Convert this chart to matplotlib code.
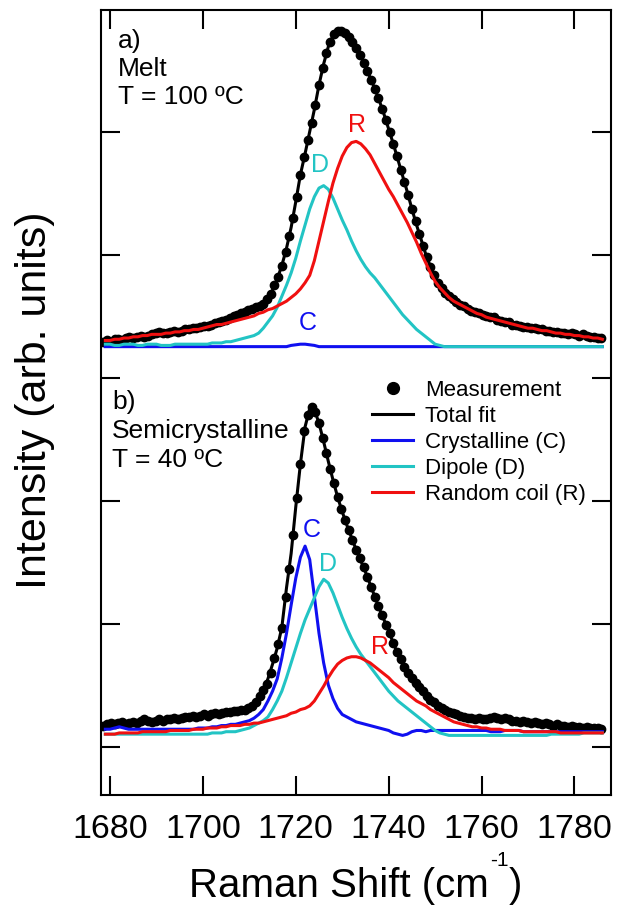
import numpy as np
import matplotlib
matplotlib.use("Agg")
import matplotlib.pyplot as plt
from matplotlib.lines import Line2D

plt.rcParams['font.family'] = ['Liberation Sans', 'DejaVu Sans']

# ---------------- data ----------------
fit_shift = np.arange(1679, 1787)                          # cm^-1, fit curves (108 samples)
meas_shift = np.round(1678.6 + 0.8 * np.arange(135), 1)    # cm^-1, measured points

# Panel a) Melt, T = 100 ºC  (heights above the panel baseline)
a_meas = [0.04, 0.05, 0.04, 0.06, 0.06, 0.05, 0.07, 0.08, 0.07, 0.08,
          0.09, 0.08, 0.09, 0.10, 0.11, 0.12, 0.11, 0.11, 0.12, 0.13,
          0.12, 0.13, 0.14, 0.14, 0.15, 0.15, 0.16, 0.17, 0.17, 0.18,
          0.19, 0.20, 0.21, 0.22, 0.23, 0.25, 0.26, 0.27, 0.28, 0.30,
          0.31, 0.32, 0.33, 0.35, 0.39, 0.43, 0.50, 0.57, 0.66, 0.77,
          0.90, 1.05, 1.22, 1.40, 1.54, 1.68, 1.82, 1.97, 2.13, 2.27,
          2.39, 2.48, 2.54, 2.57, 2.57, 2.55, 2.52, 2.48, 2.43, 2.37,
          2.31, 2.24, 2.17, 2.10, 2.02, 1.93, 1.84, 1.75, 1.65, 1.55,
          1.44, 1.34, 1.23, 1.12, 1.02, 0.92, 0.82, 0.73, 0.65, 0.58,
          0.52, 0.48, 0.44, 0.41, 0.39, 0.36, 0.34, 0.33, 0.31, 0.29,
          0.28, 0.27, 0.26, 0.25, 0.24, 0.24, 0.22, 0.21, 0.20, 0.20,
          0.18, 0.18, 0.17, 0.16, 0.16, 0.15, 0.15, 0.14, 0.14, 0.13,
          0.13, 0.12, 0.12, 0.11, 0.11, 0.10, 0.11, 0.10, 0.09, 0.10,
          0.09, 0.08, 0.08, 0.07, 0.07]
a_total = [0.04, 0.05, 0.05, 0.06, 0.06, 0.07, 0.07, 0.08, 0.08, 0.09,
           0.09, 0.10, 0.10, 0.11, 0.12, 0.12, 0.13, 0.13, 0.14, 0.15,
           0.16, 0.16, 0.17, 0.18, 0.19, 0.21, 0.22, 0.24, 0.25, 0.27,
           0.28, 0.30, 0.31, 0.33, 0.36, 0.40, 0.46, 0.55, 0.66, 0.80,
           0.97, 1.18, 1.40, 1.57, 1.75, 1.93, 2.13, 2.30, 2.44, 2.53,
           2.57, 2.57, 2.54, 2.49, 2.43, 2.36, 2.28, 2.19, 2.10, 2.00,
           1.89, 1.77, 1.65, 1.52, 1.39, 1.26, 1.12, 0.99, 0.87, 0.75,
           0.65, 0.56, 0.50, 0.45, 0.41, 0.38, 0.35, 0.33, 0.31, 0.29,
           0.27, 0.26, 0.25, 0.24, 0.23, 0.21, 0.20, 0.19, 0.18, 0.17,
           0.16, 0.16, 0.15, 0.14, 0.14, 0.13, 0.12, 0.12, 0.11, 0.11,
           0.10, 0.10, 0.09, 0.09, 0.08, 0.08, 0.07, 0.07]
a_cryst = [0.00, 0.00, 0.00, 0.00, 0.00, 0.00, 0.00, 0.00, 0.00, 0.00,
           0.00, 0.00, 0.00, 0.00, 0.00, 0.00, 0.00, 0.00, 0.00, 0.00,
           0.00, 0.00, 0.00, 0.00, 0.00, 0.00, 0.00, 0.00, 0.00, 0.00,
           0.00, 0.00, 0.00, 0.00, 0.00, 0.00, 0.00, 0.00, 0.00, 0.00,
           0.01, 0.015, 0.02, 0.02, 0.015, 0.01, 0.00, 0.00, 0.00, 0.00,
           0.00, 0.00, 0.00, 0.00, 0.00, 0.00, 0.00, 0.00, 0.00, 0.00,
           0.00, 0.00, 0.00, 0.00, 0.00, 0.00, 0.00, 0.00, 0.00, 0.00,
           0.00, 0.00, 0.00, 0.00, 0.00, 0.00, 0.00, 0.00, 0.00, 0.00,
           0.00, 0.00, 0.00, 0.00, 0.00, 0.00, 0.00, 0.00, 0.00, 0.00,
           0.00, 0.00, 0.00, 0.00, 0.00, 0.00, 0.00, 0.00, 0.00, 0.00,
           0.00, 0.00, 0.00, 0.00, 0.00, 0.00, 0.00, 0.00]
a_dipole = [0.02, 0.02, 0.01, 0.01, 0.02, 0.02, 0.02, 0.01, 0.01, 0.02,
            0.02, 0.02, 0.01, 0.01, 0.01, 0.02, 0.02, 0.02, 0.02, 0.02,
            0.02, 0.02, 0.02, 0.03, 0.03, 0.03, 0.04, 0.04, 0.05, 0.06,
            0.07, 0.08, 0.09, 0.11, 0.15, 0.20, 0.25, 0.32, 0.41, 0.50,
            0.60, 0.72, 0.86, 0.99, 1.12, 1.22, 1.29, 1.31, 1.28, 1.21,
            1.12, 1.03, 0.95, 0.86, 0.78, 0.71, 0.65, 0.60, 0.56, 0.51,
            0.46, 0.41, 0.36, 0.31, 0.26, 0.22, 0.18, 0.14, 0.11, 0.08,
            0.05, 0.02, 0.01, 0.00, 0.00, 0.00, 0.00, 0.00, 0.00, 0.00,
            0.00, 0.00, 0.00, 0.00, 0.00, 0.00, 0.00, 0.00, 0.00, 0.00,
            0.00, 0.00, 0.00, 0.00, 0.00, 0.00, 0.00, 0.00, 0.00, 0.00,
            0.00, 0.00, 0.00, 0.00, 0.00, 0.00, 0.00, 0.00]
a_random = [0.05, 0.05, 0.06, 0.06, 0.07, 0.07, 0.08, 0.08, 0.09, 0.09,
            0.10, 0.10, 0.10, 0.11, 0.11, 0.12, 0.12, 0.13, 0.13, 0.14,
            0.14, 0.15, 0.16, 0.17, 0.18, 0.18, 0.19, 0.20, 0.21, 0.22,
            0.23, 0.24, 0.25, 0.27, 0.28, 0.30, 0.31, 0.33, 0.35, 0.37,
            0.40, 0.43, 0.47, 0.52, 0.58, 0.70, 0.86, 1.02, 1.18, 1.33,
            1.45, 1.55, 1.62, 1.66, 1.67, 1.65, 1.61, 1.56, 1.49, 1.42,
            1.35, 1.28, 1.22, 1.15, 1.08, 1.01, 0.93, 0.85, 0.76, 0.68,
            0.60, 0.53, 0.48, 0.44, 0.40, 0.37, 0.35, 0.33, 0.31, 0.29,
            0.27, 0.26, 0.24, 0.23, 0.22, 0.21, 0.20, 0.19, 0.18, 0.17,
            0.16, 0.15, 0.15, 0.14, 0.13, 0.13, 0.12, 0.11, 0.11, 0.10,
            0.10, 0.09, 0.09, 0.08, 0.08, 0.07, 0.07, 0.06]

# Panel b) Semicrystalline, T = 40 ºC
b_meas = [0.05, 0.06, 0.07, 0.06, 0.07, 0.08, 0.06, 0.07, 0.08, 0.07,
          0.09, 0.10, 0.09, 0.08, 0.09, 0.10, 0.09, 0.10, 0.10, 0.11,
          0.10, 0.11, 0.12, 0.12, 0.13, 0.12, 0.13, 0.14, 0.13, 0.14,
          0.15, 0.14, 0.15, 0.16, 0.16, 0.17, 0.17, 0.18, 0.18, 0.19,
          0.21, 0.24, 0.29, 0.34, 0.39, 0.48, 0.60, 0.71, 0.84, 1.10,
          1.32, 1.60, 1.90, 2.18, 2.45, 2.58, 2.64, 2.60, 2.51, 2.39,
          2.27, 2.14, 2.02, 1.91, 1.81, 1.72, 1.64, 1.56, 1.48, 1.41,
          1.34, 1.26, 1.18, 1.10, 1.02, 0.95, 0.87, 0.80, 0.72, 0.65,
          0.59, 0.53, 0.48, 0.44, 0.40, 0.36, 0.33, 0.29, 0.26, 0.24,
          0.21, 0.19, 0.18, 0.16, 0.15, 0.14, 0.13, 0.12, 0.11, 0.11,
          0.10, 0.11, 0.10, 0.10, 0.11, 0.12, 0.11, 0.10, 0.11, 0.10,
          0.09, 0.09, 0.08, 0.09, 0.08, 0.07, 0.08, 0.07, 0.06, 0.07,
          0.06, 0.05, 0.06, 0.05, 0.05, 0.04, 0.05, 0.04, 0.04, 0.03,
          0.04, 0.03, 0.03, 0.03, 0.02]
b_total = [0.05, 0.06, 0.06, 0.06, 0.07, 0.07, 0.07, 0.08, 0.08, 0.08,
           0.09, 0.09, 0.09, 0.09, 0.10, 0.10, 0.11, 0.11, 0.12, 0.12,
           0.13, 0.13, 0.13, 0.14, 0.14, 0.15, 0.16, 0.16, 0.17, 0.18,
           0.19, 0.21, 0.23, 0.28, 0.34, 0.43, 0.55, 0.68, 0.85, 1.17,
           1.45, 1.83, 2.18, 2.48, 2.63, 2.62, 2.51, 2.36, 2.20, 2.05,
           1.91, 1.79, 1.68, 1.58, 1.48, 1.39, 1.30, 1.20, 1.10, 1.00,
           0.91, 0.82, 0.72, 0.63, 0.56, 0.49, 0.44, 0.39, 0.34, 0.30,
           0.26, 0.23, 0.20, 0.18, 0.16, 0.14, 0.13, 0.12, 0.11, 0.11,
           0.10, 0.10, 0.10, 0.10, 0.10, 0.10, 0.10, 0.09, 0.09, 0.08,
           0.08, 0.07, 0.07, 0.07, 0.06, 0.06, 0.06, 0.05, 0.05, 0.05,
           0.04, 0.04, 0.04, 0.03, 0.03, 0.03, 0.03, 0.02]
b_cryst = [0.02, 0.02, 0.03, 0.04, 0.03, 0.02, 0.02, 0.02, 0.02, 0.02,
           0.02, 0.02, 0.02, 0.02, 0.02, 0.02, 0.02, 0.02, 0.02, 0.02,
           0.03, 0.03, 0.03, 0.04, 0.04, 0.05, 0.05, 0.06, 0.06, 0.07,
           0.08, 0.09, 0.11, 0.14, 0.18, 0.25, 0.33, 0.43, 0.60, 0.80,
           1.03, 1.25, 1.42, 1.51, 1.40, 1.10, 0.80, 0.56, 0.38, 0.27,
           0.19, 0.14, 0.12, 0.10, 0.08, 0.07, 0.06, 0.05, 0.04, 0.03,
           0.02, 0.01, -0.01, -0.02, -0.03, -0.02, 0.00, 0.01, 0.01, 0.00,
           0.01, 0.01, 0.01, 0.01, 0.01, 0.01, 0.01, 0.01, 0.01, 0.01,
           0.01, 0.01, 0.01, 0.00, 0.00, 0.00, 0.01, 0.01, 0.01, 0.01,
           0.00, 0.00, 0.00, 0.00, 0.00, 0.00, 0.00, 0.00, 0.00, 0.00,
           0.00, 0.00, 0.00, 0.00, 0.00, 0.00, 0.00, 0.00]
b_dipole = [-0.02, -0.02, -0.02, -0.02, -0.02, -0.02, -0.02, -0.02, -0.02, -0.02,
            -0.02, -0.02, -0.02, -0.02, -0.02, -0.02, -0.02, -0.02, -0.02, -0.02,
            -0.02, -0.02, -0.02, -0.01, -0.01, -0.01, 0.00, 0.00, 0.00, 0.01,
            0.02, 0.03, 0.05, 0.07, 0.09, 0.12, 0.18, 0.25, 0.33, 0.44,
            0.56, 0.68, 0.80, 0.91, 1.00, 1.09, 1.18, 1.24, 1.21, 1.13,
            1.03, 0.93, 0.84, 0.76, 0.69, 0.63, 0.58, 0.53, 0.48, 0.43,
            0.38, 0.33, 0.29, 0.25, 0.22, 0.19, 0.16, 0.13, 0.10, 0.07,
            0.04, 0.01, -0.01, -0.02, -0.03, -0.03, -0.03, -0.03, -0.03, -0.03,
            -0.03, -0.03, -0.03, -0.03, -0.03, -0.03, -0.03, -0.03, -0.03, -0.03,
            -0.03, -0.03, -0.03, -0.03, -0.03, -0.03, -0.02, -0.02, -0.02, -0.02,
            -0.02, -0.02, -0.02, -0.01, -0.01, -0.01, -0.01, -0.01]
b_random = [-0.02, -0.02, -0.02, -0.01, -0.01, -0.01, -0.01, -0.01, 0.00, 0.00,
            0.00, 0.00, 0.00, 0.00, 0.01, 0.01, 0.01, 0.01, 0.01, 0.02,
            0.02, 0.02, 0.03, 0.03, 0.03, 0.04, 0.04, 0.05, 0.05, 0.05,
            0.06, 0.06, 0.07, 0.07, 0.08, 0.09, 0.10, 0.11, 0.12, 0.13,
            0.15, 0.16, 0.18, 0.19, 0.21, 0.25, 0.31, 0.37, 0.44, 0.50,
            0.55, 0.58, 0.60, 0.61, 0.61, 0.60, 0.58, 0.56, 0.53, 0.50,
            0.47, 0.44, 0.40, 0.37, 0.34, 0.31, 0.28, 0.25, 0.23, 0.21,
            0.18, 0.16, 0.14, 0.12, 0.10, 0.08, 0.07, 0.06, 0.05, 0.04,
            0.04, 0.03, 0.03, 0.02, 0.02, 0.02, 0.01, 0.01, 0.01, 0.01,
            0.00, 0.00, 0.00, 0.00, 0.00, 0.00, 0.00, 0.00, -0.01, -0.01,
            -0.01, -0.01, -0.01, -0.01, -0.01, -0.01, -0.01, -0.01]

panel_offsets = {'a': 3.255, 'b': 0.122}
series_labels = ['Measurement', 'Total fit', 'Crystalline (C)', 'Dipole (D)', 'Random coil (R)']
x_ticks = [1680, 1700, 1720, 1740, 1760, 1780]

# ---------------- style ----------------
C_BLUE = '#1010f0'
C_CYAN = '#22c4c4'
C_RED = '#f01010'

W, H = 617, 906
fig = plt.figure(figsize=(W / 100, H / 100), dpi=100)
left, right, top, bottom = 100.7, 610.7, 10, 795
ax = fig.add_axes([left / W, 1 - bottom / H, (right - left) / W, (bottom - top) / H])

panels = [('a', a_meas, a_total, a_cryst, a_dipole, a_random),
          ('b', b_meas, b_total, b_cryst, b_dipole, b_random)]
for key, meas, total, cr, dp, rc in panels:
    off = panel_offsets[key]
    ax.plot(fit_shift, np.array(total) + off, color='black', lw=2.2, zorder=3)
    ax.plot(meas_shift, np.array(meas) + off, 'o', color='black', ms=6, mec='black', zorder=4)
    ax.plot(fit_shift, np.array(cr) + off, color=C_BLUE, lw=2.2, zorder=5)
    ax.plot(fit_shift, np.array(dp) + off, color=C_CYAN, lw=2.2, zorder=6)
    ax.plot(fit_shift, np.array(rc) + off, color=C_RED, lw=2.2, zorder=7)

ax.set_xlim(1678.0, 1787.8)
ax.set_ylim(-0.393, 5.994)
ax.set_xticks(x_ticks)
ax.set_xticklabels([str(t) for t in x_ticks])
ax.set_yticks([0, 1, 2, 3, 4, 5])
ax.set_yticklabels([])
ax.tick_params(axis='both', direction='in', length=14, width=1.5,
               top=True, right=True, labelsize=24.5, pad=14)
for s in ax.spines.values():
    s.set_linewidth(1.5)

# x label built from pieces so the superscript uses a plain hyphen
renderer = fig.canvas.get_renderer()
base_y = 1 - 897 / H
sup_y = 1 - 866 / H
t1 = fig.text(0, base_y, 'Raman Shift (cm', fontsize=29, ha='left', va='baseline')
t2 = fig.text(0, sup_y, '-1', fontsize=15, ha='left', va='baseline')
t3 = fig.text(0, base_y, ')', fontsize=29, ha='left', va='baseline')
w1 = t1.get_window_extent(renderer).width
w2 = t2.get_window_extent(renderer).width
w3 = t3.get_window_extent(renderer).width
total_w = w1 + 1 + w2 + 1 + w3
x0 = (left + right) / 2 - total_w / 2
t1.set_x(x0 / W)
t2.set_x((x0 + w1 + 1) / W)
t3.set_x((x0 + w1 + 1 + w2 + 1) / W)

fig.text(35 / W, 1 - 400 / H, 'Intensity (arb. units)', rotation=90,
         ha='center', va='center', fontsize=31)

# panel annotations
ax.text(1681.8, 5.84, 'a)\nMelt\nT = 100 ºC', fontsize=19, va='top', ha='left',
        linespacing=1.2)
ax.text(1680.5, 2.90, 'b)\nSemicrystalline\nT = 40 ºC', fontsize=19, va='top', ha='left',
        linespacing=1.25)

ax.text(1733.1, 5.06, 'R', color=C_RED, fontsize=18, ha='center', va='center')
ax.text(1725.2, 4.73, 'D', color=C_CYAN, fontsize=18, ha='center', va='center')
ax.text(1722.5, 3.445, 'C', color=C_BLUE, fontsize=18, ha='center', va='center')
ax.text(1723.4, 1.763, 'C', color=C_BLUE, fontsize=18, ha='center', va='center')
ax.text(1727.0, 1.49, 'D', color=C_CYAN, fontsize=18, ha='center', va='center')
ax.text(1738.2, 0.814, 'R', color=C_RED, fontsize=18, ha='center', va='center')

handles = [Line2D([], [], ls='none', marker='o', color='black', ms=8.5),
           Line2D([], [], color='black', lw=2.2),
           Line2D([], [], color=C_BLUE, lw=2.2),
           Line2D([], [], color=C_CYAN, lw=2.2),
           Line2D([], [], color=C_RED, lw=2.2)]
ax.legend(handles, series_labels, loc='upper left',
          bbox_to_anchor=((372 - left) / (right - left), (bottom - 380) / (bottom - top)),
          frameon=False, fontsize=16, handlelength=1.85, handletextpad=0.55,
          labelspacing=0.225, borderpad=0, borderaxespad=0)

fig.savefig('out.png', dpi=100)
